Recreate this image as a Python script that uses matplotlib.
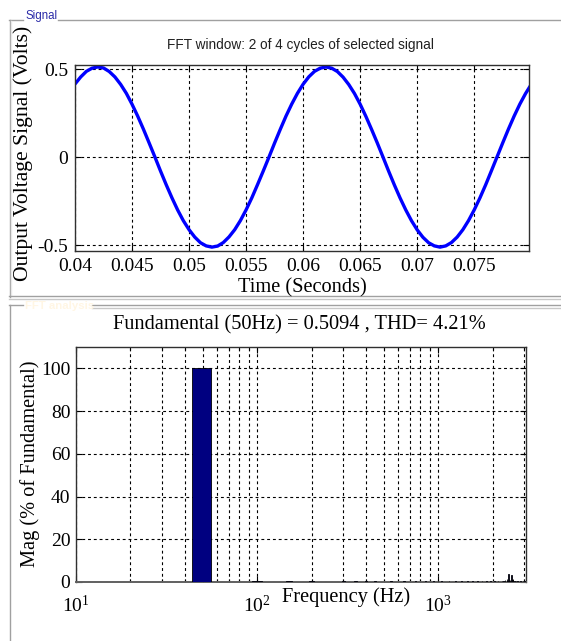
import matplotlib
matplotlib.use('Agg')
import matplotlib.pyplot as plt
from matplotlib.lines import Line2D
from matplotlib.transforms import Bbox, TransformedBbox
from matplotlib.ticker import FixedLocator, LogLocator, NullFormatter

plt.rcParams['font.family'] = ['Liberation Serif', 'DejaVu Serif']
plt.rcParams['axes.unicode_minus'] = False
plt.rcParams['mathtext.fontset'] = 'custom'
plt.rcParams['mathtext.rm'] = 'Liberation Serif'
plt.rcParams['mathtext.it'] = 'Liberation Serif:italic'

# ---------------- data ----------------
time_s = [0.0400, 0.0405, 0.0410, 0.0415, 0.0420, 0.0425, 0.0430, 0.0435, 0.0440, 0.0445,
          0.0450, 0.0455, 0.0460, 0.0465, 0.0470, 0.0475, 0.0480, 0.0485, 0.0490, 0.0495,
          0.0500, 0.0505, 0.0510, 0.0515, 0.0520, 0.0525, 0.0530, 0.0535, 0.0540, 0.0545,
          0.0550, 0.0555, 0.0560, 0.0565, 0.0570, 0.0575, 0.0580, 0.0585, 0.0590, 0.0595,
          0.0600, 0.0605, 0.0610, 0.0615, 0.0620, 0.0625, 0.0630, 0.0635, 0.0640, 0.0645,
          0.0650, 0.0655, 0.0660, 0.0665, 0.0670, 0.0675, 0.0680, 0.0685, 0.0690, 0.0695,
          0.0700, 0.0705, 0.0710, 0.0715, 0.0720, 0.0725, 0.0730, 0.0735, 0.0740, 0.0745,
          0.0750, 0.0755, 0.0760, 0.0765, 0.0770, 0.0775, 0.0780, 0.0785, 0.0790, 0.0795,
          0.0800]
voltage = [0.415, 0.455, 0.487, 0.505, 0.512, 0.506, 0.486, 0.455, 0.413, 0.362,
           0.300, 0.232, 0.158, 0.080, 0.001, -0.080, -0.158, -0.232, -0.301, -0.362,
           -0.413, -0.455, -0.487, -0.505, -0.512, -0.506, -0.486, -0.454, -0.413, -0.361,
           -0.300, -0.232, -0.157, -0.080, -0.001, 0.080, 0.158, 0.233, 0.301, 0.362,
           0.414, 0.456, 0.487, 0.505, 0.512, 0.505, 0.486, 0.454, 0.412, 0.361,
           0.300, 0.231, 0.157, 0.080, 0.000, -0.081, -0.159, -0.233, -0.301, -0.362,
           -0.414, -0.456, -0.487, -0.505, -0.512, -0.505, -0.486, -0.455, -0.413, -0.361,
           -0.300, -0.232, -0.158, -0.079, 0.001, 0.081, 0.159, 0.233, 0.301, 0.361,
           0.413]
time_ticks = [0.04, 0.045, 0.05, 0.055, 0.06, 0.065, 0.07, 0.075]
time_tick_labels = ['0.04', '0.045', '0.05', '0.055', '0.06', '0.065', '0.07', '0.075']
volt_ticks = [-0.5, 0, 0.5]
volt_tick_labels = ['-0.5', '0', '0.5']

freq_hz = [50, 100, 150, 200, 250, 300, 350, 400, 450, 500, 550, 600, 650, 700, 750,
           800, 850, 900, 950, 1000, 1050, 1150, 1250, 1350, 1450, 1550, 1650, 1750,
           1850, 1950, 2050, 2150, 2250, 2300, 2350, 2400, 2425, 2450, 2475, 2500,
           2525, 2550, 2575, 2600, 2650, 2700, 2750, 2850, 2950, 3000]
mag_pct = [100, 0.6, 0.6, 0.5, 0.1, 0.3, 0.5, 0.3, 0.5, 0.2, 0.5, 0.2, 0.4, 0.2, 0.4,
           0.2, 0.4, 0.2, 0.3, 0.3, 0.3, 0.3, 0.4, 0.3, 0.3, 0.4, 0.3, 0.4,
           0.3, 0.5, 0.4, 0.4, 0.5, 0.6, 0.8, 1.2, 0.6, 3.6, 0.8, 1.0,
           0.7, 3.3, 0.9, 1.6, 0.7, 0.5, 0.4, 0.3, 0.3, 0.3]
mag_ticks = [0, 20, 40, 60, 80, 100]

# ---------------- figure ----------------
W, H = 561, 641
fig = plt.figure(figsize=(W / 100, H / 100), dpi=100)
fig.patch.set_facecolor('white')


def fx(x):
    return x / W


def fy(y):
    return 1 - y / H


def seg(x0, y0, x1, y1, c='#a0a0a0', lw=1.0):
    fig.add_artist(Line2D([fx(x0), fx(x1)], [fy(y0), fy(y1)], color=c, lw=lw,
                          transform=fig.transFigure))


# panel frames (etched look)
seg(9, 20, 23, 20)
seg(58, 20, 561, 20)
seg(9.5, 20, 9.5, 297)
seg(11, 21, 11, 295, c='#e8e8e8')
seg(9, 296, 561, 296)
seg(9, 298.5, 561, 298.5, c='#c8c8c8')
seg(9, 305, 23, 305)
seg(92, 305, 561, 305)
seg(92, 307.5, 561, 307.5, c='#c8c8c8')
seg(9.5, 305, 9.5, 641)

fig.text(fx(25), fy(16), 'Signal', family=['Liberation Sans', 'DejaVu Sans'],
         size=8.3, color='#2a2aa8', ha='left', va='center')
fig.text(fx(25), fy(306), 'FFT analysis', family=['Liberation Sans', 'DejaVu Sans'],
         size=8.2, weight='bold', color='#fff6e4', ha='left', va='center')

grid_style = dict(color='black', linestyle=(0, (2.6, 2.6)), linewidth=0.8)
spine_col = '#303030'

# ---------------- top axes ----------------
ax1 = fig.add_axes([fx(75), fy(251), (529 - 75) / W, (251 - 65) / H])
ax1.plot(time_s, voltage, color='#0000ff', lw=2.4, solid_joinstyle='miter')
ax1.set_xlim(0.04, 0.0798)
ax1.set_ylim(-0.534, 0.523)
ax1.set_xticks(time_ticks)
ax1.set_xticklabels(time_tick_labels)
ax1.set_yticks(volt_ticks)
ax1.set_yticklabels(volt_tick_labels)
ax1.grid(True, **grid_style)
ax1.tick_params(direction='in', top=True, right=True, length=4, width=0.8,
                labelsize=14, pad=5)
for s in ax1.spines.values():
    s.set_color(spine_col)
    s.set_linewidth(1.0)

fig.text(fx(300), fy(45), 'FFT window: 2 of 4 cycles of selected signal',
         family=['Liberation Sans', 'DejaVu Sans'], size=9.8, color='#202020',
         ha='center', va='center')
fig.text(fx(302), fy(288), 'Time (Seconds)', size=14.7, ha='center', va='center')
yl = fig.text(fx(23), fy(281), 'Output Voltage Signal (Volts)', size=15.6,
              rotation=90, ha='center', va='bottom')
yl.set_clip_box(TransformedBbox(Bbox([[0, 0], [1, fy(21)]]), fig.transFigure))
yl.set_clip_on(True)

# ---------------- bottom axes ----------------
ax2 = fig.add_axes([fx(76), fy(582), (526 - 76) / W, (582 - 347) / H])
ax2.set_xscale('log')
ax2.bar(freq_hz, mag_pct, width=12, color='#000080', edgecolor='black',
        linewidth=0.6, align='center', zorder=3)
ax2.set_xlim(10, 3062)
ax2.set_ylim(0, 110)
ax2.set_yticks(mag_ticks)
ax2.xaxis.set_major_locator(LogLocator(base=10, numticks=10))
ax2.xaxis.set_minor_locator(LogLocator(base=10, subs=range(2, 10), numticks=20))
ax2.xaxis.set_minor_formatter(NullFormatter())
ax2.grid(True, which='major', axis='both', **grid_style)
ax2.grid(True, which='minor', axis='x', **grid_style)
ax2.set_axisbelow(True)
ax2.tick_params(which='both', direction='in', top=True, right=True, width=0.8)
ax2.tick_params(which='major', length=4, labelsize=14)
ax2.tick_params(which='minor', length=2.5)
ax2.tick_params(axis='x', which='major', pad=9)
ax2.tick_params(axis='y', pad=4)
for s in ax2.spines.values():
    s.set_color(spine_col)
    s.set_linewidth(1.0)
ax2.spines['bottom'].set_color('#606060')
ax2.spines['bottom'].set_linewidth(1.4)

fig.text(fx(299), fy(325), 'Fundamental (50Hz) = 0.5094 , THD= 4.21%', size=14.7,
         ha='center', va='center')
fig.text(fx(346), fy(597), 'Frequency (Hz)', size=14.7, ha='center', va='center')
fig.text(fx(30), fy(464), 'Mag (% of Fundamental)', size=14.7, rotation=90,
         ha='center', va='center')

fig.savefig('out.png', dpi=100, facecolor='white')
